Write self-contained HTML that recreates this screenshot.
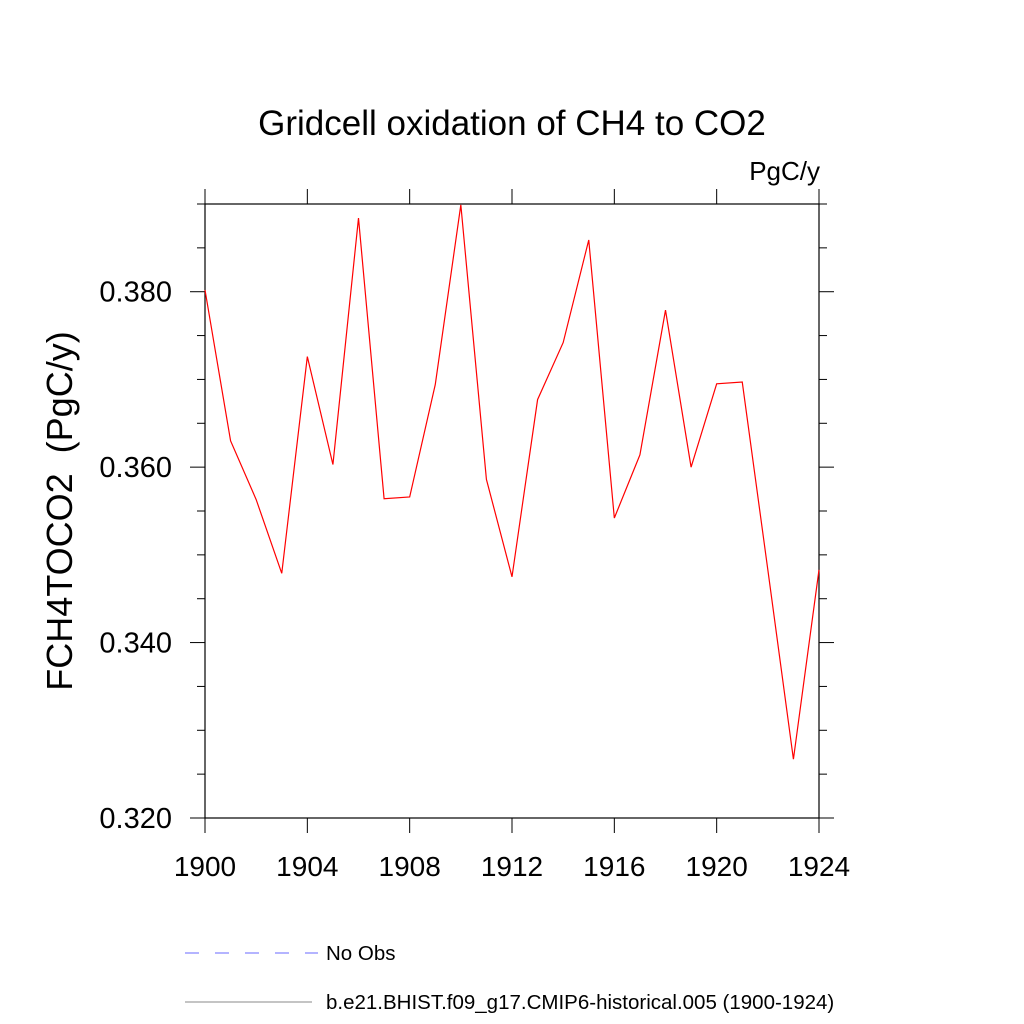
<!DOCTYPE html>
<html><head><meta charset="utf-8"><style>body{margin:0;background:#fff}svg{display:block;font-family:"Liberation Sans",sans-serif}</style></head>
<body>
<svg id="chart" width="1024" height="1024" viewBox="0 0 1024 1024">
<text x="512" y="135" font-size="35" text-anchor="middle">Gridcell oxidation of CH4 to CO2</text>
<text x="820" y="180" font-size="26" text-anchor="end">PgC/y</text>
<text transform="translate(72,511) rotate(-90)" font-size="36" text-anchor="middle" xml:space="preserve">FCH4TOCO2  (PgC/y)</text>
<g id="axes"></g>
<g id="series"></g>
<g>
<line x1="185" y1="953" x2="318" y2="953" stroke="#6a6aff" stroke-width="1" stroke-dasharray="14,16"/>
<text x="326" y="960" font-size="20.5">No Obs</text>
<line x1="185" y1="1002" x2="312" y2="1002" stroke="#888" stroke-width="1"/>
<text x="326" y="1009" font-size="20.5">b.e21.BHIST.f09_g17.CMIP6-historical.005 (1900-1924)</text>
</g>
</svg>
<script>
const years = [1900,1901,1902,1903,1904,1905,1906,1907,1908,1909,1910,1911,1912,1913,1914,1915,1916,1917,1918,1919,1920,1921,1922,1923,1924];
const values = [0.3802,0.3630,0.3563,0.3479,0.3726,0.3603,0.3884,0.3564,0.3566,0.3694,0.3899,0.3586,0.3475,0.3677,0.3742,0.3859,0.3542,0.3614,0.3779,0.3600,0.3695,0.3697,0.3483,0.3267,0.3483];
const xTicks = [1900,1904,1908,1912,1916,1920,1924];
const yTicks = [0.320,0.340,0.360,0.380];
const yTickLabels = ["0.320","0.340","0.360","0.380"];
const X0=205,X1=819,Y0=818,Y1=204,xMin=1900,xMax=1924,yMin=0.32,yMax=0.39;
const xs=v=>X0+(v-xMin)/(xMax-xMin)*(X1-X0);
const ys=v=>Y0-(v-yMin)/(yMax-yMin)*(Y0-Y1);
const NS="http://www.w3.org/2000/svg";
function mk(tag,attrs,parent,txt){const e=document.createElementNS(NS,tag);for(const k in attrs)e.setAttribute(k,attrs[k]);if(txt!==undefined)e.textContent=txt;parent.appendChild(e);return e;}
const ax=document.getElementById('axes');
const frame=mk('rect',{x:X0,y:Y1,width:X1-X0,height:Y0-Y1,fill:'none',stroke:'#000','stroke-width':1.2},ax);


xTicks.forEach(t=>{const x=xs(t);
 const a=mk('line',{x1:x,y1:Y0,x2:x,y2:Y0+15,stroke:'#000'},ax);
 
 
 const b=mk('line',{x1:x,y1:Y1,x2:x,y2:Y1-15,stroke:'#000'},ax);
 
 
 const l=mk('text',{x:x,y:876,'font-size':28,'text-anchor':'middle'},ax,String(t));
 
 
});
for(let v=0.32;v<=0.3901;v+=0.005){const y=ys(v);const major=Math.abs(Math.round(v*1000)%20)<1;const len=major?15:8;
 const a=mk('line',{x1:X0-len,y1:y,x2:X0,y2:y,stroke:'#000'},ax);
 
 
 const b=mk('line',{x1:X1,y1:y,x2:X1+len,y2:y,stroke:'#000'},ax);
 
 
}
yTicks.forEach((t,i)=>{const l=mk('text',{x:172,y:ys(t)+10,'font-size':29,'text-anchor':'end'},ax,yTickLabels[i]);
 
 
});
const s=document.getElementById('series');
const p=mk('polyline',{points:years.map((y,i)=>xs(y)+','+ys(values[i])).join(' '),fill:'none',stroke:'#ff0000','stroke-width':1.2},s);


</script>
</body></html>
